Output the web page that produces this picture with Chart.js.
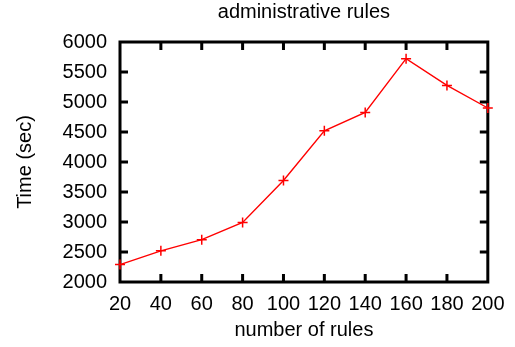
<!DOCTYPE html>
<html>
<head>
<meta charset="utf-8">
<script src="https://cdn.jsdelivr.net/npm/chart.js@4.4.0/dist/chart.umd.min.js"></script>
<style>
  html, body { margin: 0; padding: 0; background: #fff; }
  #wrap { width: 515px; height: 347px; position: relative; }
</style>
</head>
<body>
<div id="wrap"><canvas id="c"></canvas></div>
<script>
// number of rules vs. run time
const ruleCounts = [20, 40, 60, 80, 100, 120, 140, 160, 180, 200];
const timeSec = [2290, 2520, 2705, 2993, 3693, 4520, 4827, 5722, 5277, 4900];

const xTicks = [20, 40, 60, 80, 100, 120, 140, 160, 180, 200];
const yTicks = [2000, 2500, 3000, 3500, 4000, 4500, 5000, 5500, 6000];

const FONT = { family: '"Liberation Sans", Arial, sans-serif', size: 20 };

// gnuplot-style frame with inward ticks on all four sides
const framePlugin = {
  id: 'frame',
  beforeDatasetsDraw(chart) {
    const { ctx, chartArea: a, scales } = chart;
    const tl = 8;
    ctx.save();
    ctx.strokeStyle = '#000';
    ctx.lineWidth = 3;
    ctx.lineCap = 'butt';
    ctx.beginPath();
    scales.x.ticks.forEach(t => {
      const px = scales.x.getPixelForValue(t.value);
      if (px <= a.left + 1 || px >= a.right - 1) return;
      ctx.moveTo(px, a.bottom); ctx.lineTo(px, a.bottom - tl);
      ctx.moveTo(px, a.top); ctx.lineTo(px, a.top + tl);
    });
    scales.y.ticks.forEach(t => {
      const py = scales.y.getPixelForValue(t.value);
      if (py <= a.top + 1 || py >= a.bottom - 1) return;
      ctx.moveTo(a.left, py); ctx.lineTo(a.left + tl, py);
      ctx.moveTo(a.right, py); ctx.lineTo(a.right - tl, py);
    });
    ctx.stroke();
    ctx.strokeRect(a.left, a.top, a.right - a.left, a.bottom - a.top);
    ctx.restore();
  }
};

new Chart(document.getElementById('c'), {
  type: 'line',
  data: {
    datasets: [{
      data: ruleCounts.map((x, i) => ({ x: x, y: timeSec[i] })),
      borderColor: '#ff0000',
      backgroundColor: '#ff0000',
      borderWidth: 1.4,
      pointStyle: 'cross',
      pointRadius: 5,
      pointBorderWidth: 1.5,
      pointHoverRadius: 5,
      tension: 0,
      clip: false
    }]
  },
  options: {
    responsive: true,
    maintainAspectRatio: false,
    animation: false,
    layout: { padding: { left: 0, right: 26, top: 0, bottom: 0 } },
    plugins: {
      legend: { display: false },
      tooltip: { enabled: false },
      title: {
        display: true,
        text: 'administrative rules',
        fullSize: false,
        color: '#000',
        font: { family: FONT.family, size: FONT.size, weight: 'normal' },
        padding: { top: 0, bottom: 18 }
      }
    },
    scales: {
      x: {
        type: 'linear',
        min: 20,
        max: 200,
        afterBuildTicks(scale) { scale.ticks = xTicks.map(v => ({ value: v })); },
        afterFit(scale) { scale.height = 65; },
        grid: { display: false, drawTicks: false },
        border: { display: false },
        ticks: { color: '#000', font: FONT, padding: 10.5, maxRotation: 0, callback: v => String(v) },
        title: {
          display: true,
          text: 'number of rules',
          color: '#000',
          font: FONT,
          padding: { top: 0, bottom: 5 }
        }
      },
      y: {
        min: 2000,
        max: 6000,
        afterBuildTicks(scale) { scale.ticks = yTicks.map(v => ({ value: v })); },
        afterFit(scale) { scale.width = 120; },
        grid: { display: false, drawTicks: false },
        border: { display: false },
        ticks: { color: '#000', font: FONT, padding: 13, callback: v => String(v) },
        title: {
          display: true,
          text: 'Time (sec)',
          color: '#000',
          font: FONT,
          padding: { top: 13, bottom: 0 }
        }
      }
    }
  },
  plugins: [framePlugin]
});
</script>
</body>
</html>
